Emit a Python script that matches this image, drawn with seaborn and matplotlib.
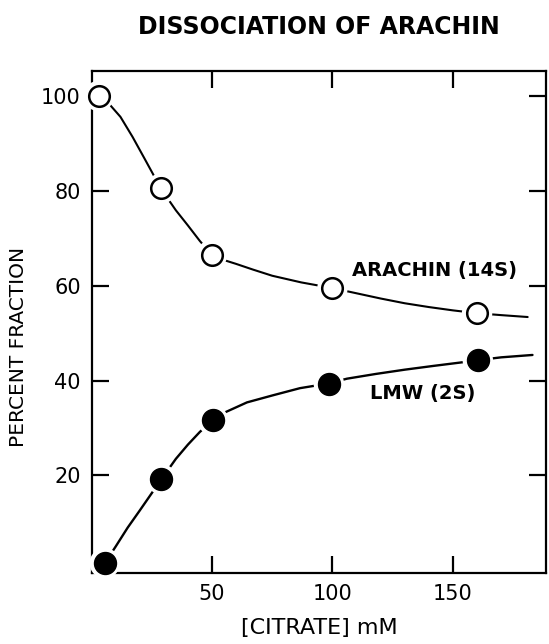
# Dissociation of arachin vs citrate concentration
import numpy as np
import pandas as pd
import matplotlib
matplotlib.use("Agg")
import matplotlib.pyplot as plt
import seaborn as sns

# --------------------------------------------
# data
# --------------------------------------------
citrate_pts = [3, 29, 50, 100, 160]
arachin_pts = [100, 80.5, 66.5, 59.5, 54.2]

lmw_citrate_pts = [5.5, 29, 50.4, 98.5, 160.3]
lmw_pts = [1.5, 19.2, 31.6, 39.3, 44.3]

# traced smooth curves (hand drawn in original)
arachin_curve_x = [3, 7, 12, 17, 22, 29, 35, 40, 45, 50, 55, 60, 67, 75, 87, 100,
                   110, 120, 130, 140, 150, 160, 170, 181]
arachin_curve_y = [100, 98.5, 95.6, 91.4, 86.8, 80.3, 75.9, 72.7, 69.4, 66.5, 65.4,
                   64.6, 63.4, 62.1, 60.7, 59.5, 58.4, 57.3, 56.3, 55.5, 54.8, 54.2,
                   53.8, 53.4]

lmw_curve_x = [5.5, 10, 15, 20, 29, 35, 40, 45, 50.4, 55.4, 64.5, 75.3, 86.5, 98.5,
               106, 118, 130, 142, 153, 160.3, 170, 183]
lmw_curve_y = [1.5, 5.0, 9.0, 12.6, 19.2, 23.5, 26.5, 29.2, 31.6, 33.3, 35.4, 36.9,
               38.4, 39.4, 40.4, 41.4, 42.3, 43.1, 43.8, 44.3, 44.9, 45.4]

x_ticks = [50, 100, 150]
y_ticks = [20, 40, 60, 80, 100]

# --------------------------------------------
# style
# --------------------------------------------
sns.set_style("ticks")
plt.rcParams['font.family'] = ['DejaVu Sans']
plt.rcParams['text.color'] = 'black'
plt.rcParams['axes.labelcolor'] = 'black'
plt.rcParams['xtick.color'] = 'black'
plt.rcParams['ytick.color'] = 'black'
plt.rcParams['axes.edgecolor'] = 'black'
plt.rcParams['axes.linewidth'] = 1.6

fig = plt.figure(figsize=(5.49, 6.44), dpi=100)
ax = fig.add_axes([0.1676, 0.110, 0.8269, 0.780])

# curves
sns.lineplot(x=arachin_curve_x, y=arachin_curve_y, ax=ax, color='black',
             lw=1.5, sort=False, estimator=None)
sns.lineplot(x=lmw_curve_x, y=lmw_curve_y, ax=ax, color='black',
             lw=1.7, sort=False, estimator=None)

# white halo so the lines stop short of the circles
for xs, ys in [(citrate_pts, arachin_pts), (lmw_citrate_pts, lmw_pts)]:
    sns.scatterplot(x=xs, y=ys, ax=ax, s=480, color='white', edgecolor='none',
                    clip_on=False, zorder=3)

sns.scatterplot(x=citrate_pts, y=arachin_pts, ax=ax, s=220, color='white',
                edgecolor='black', linewidth=1.8, clip_on=False, zorder=4)
sns.scatterplot(x=lmw_citrate_pts, y=lmw_pts, ax=ax, s=250, color='black',
                edgecolor='black', linewidth=1.0, clip_on=False, zorder=4)

ax.set_xlim(0.2, 188.6)
ax.set_ylim(-0.6, 105.3)
ax.set_xticks(x_ticks)
ax.set_yticks(y_ticks)
ax.tick_params(direction='in', length=12, width=1.6, top=True, right=True,
               labelsize=15, pad=8)
for sp in ax.spines.values():
    sp.set_visible(True)
    sp.set_linewidth(1.6)
    sp.set_color('black')

ax.set_xlabel("[CITRATE] mM", fontsize=16, labelpad=10)
ax.set_ylabel("PERCENT FRACTION", fontsize=14.5)
ax.yaxis.set_label_coords(-0.14, 0.45)

ax.text(108, 63.3, "ARACHIN (14S)", fontsize=14, fontweight='bold',
        va='center', ha='left')
ax.text(115.6, 37.3, "LMW (2S)", fontsize=14, fontweight='bold',
        va='center', ha='left')

fig.text(0.581, 0.958, "DISSOCIATION OF ARACHIN", fontsize=17,
         fontweight='bold', ha='center', va='center')

plt.savefig("out.png", dpi=100)
plt.close()
